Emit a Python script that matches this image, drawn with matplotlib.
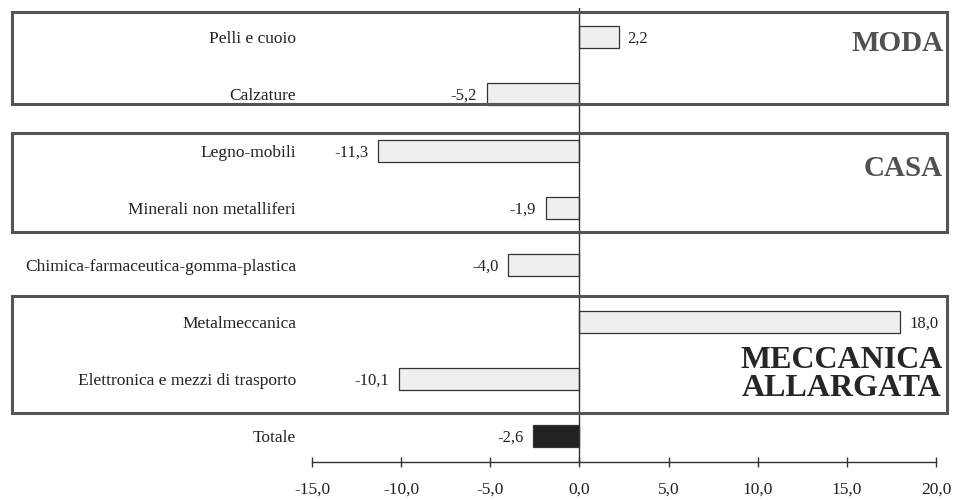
import matplotlib.pyplot as plt
from matplotlib.patches import Rectangle

categories = ["Pelli e cuoio", "Calzature", "Legno-mobili", "Minerali non metalliferi",
              "Chimica-farmaceutica-gomma-plastica", "Metalmeccanica",
              "Elettronica e mezzi di trasporto", "Totale"]
values = [2.2, -5.2, -11.3, -1.9, -4.0, 18.0, -10.1, -2.6]
xticks = [-15, -10, -5, 0, 5, 10, 15, 20]

# group boxes: label, first row, last row
groups = [("MODA", 0, 1), ("CASA", 2, 3), ("MECCANICA\nALLARGATA", 5, 6)]

plt.rcParams['font.family'] = ['Liberation Serif', 'DejaVu Serif']

W, H = 958, 500
fig = plt.figure(figsize=(W / 100, H / 100), dpi=100)
# axes spans the -15..20 range, top of zero line to axis line
ax = fig.add_axes([312 / W, (H - 462) / H, (936 - 312) / W, (462 - 8) / H])
ax.set_xlim(-15, 20)
ax.set_ylim(7.456, -0.509)

rows = list(range(len(categories)))
colors = ["#efefef"] * (len(values) - 1) + ["#222222"]
ax.barh(rows, values, height=0.38, color=colors, edgecolor="#333333", linewidth=0.9, zorder=3)

ax.axvline(0, color="#333333", linewidth=1.0, zorder=4)

for y, v, name in zip(rows, values, categories):
    lab = f"{v:.1f}".replace(".", ",")
    if v >= 0:
        ax.text(v + 0.5, y + 0.03, lab, ha="left", va="center", fontsize=12, color="#222222")
    else:
        ax.text(v - 0.55, y + 0.03, lab, ha="right", va="center", fontsize=12, color="#222222")
    ax.text(-15.9, y + 0.03, name, ha="right", va="center", fontsize=12.5, color="#222222",
            clip_on=False)

# group boxes (pixel-measured padding above/below) and label placement
pads = [(0.44, 0.175), (0.316, 0.42), (0.46, 0.6)]
label_y = [0.12, 2.3, 5.92]
label_size = [21, 21, 23]
label_col = ["#505050", "#505050", "#262626"]
for (label, r0, r1), (pt, pb), ly, fs, col in zip(groups, pads, label_y, label_size, label_col):
    top = r0 - pt
    bot = r1 + pb
    ax.add_patch(Rectangle((-31.8, top), 20.62 + 31.8, bot - top, fill=False,
                           edgecolor="#555555", linewidth=2.2, clip_on=False, zorder=5))
    ax.text(20.4, ly, label, ha="right", va="center", fontsize=fs, fontweight="bold",
            color=col, linespacing=0.92, multialignment="center", clip_on=False)

for s in ["top", "right", "left"]:
    ax.spines[s].set_visible(False)
ax.spines["bottom"].set_color("#333333")
ax.spines["bottom"].set_linewidth(1.0)
ax.set_yticks([])
ax.set_xticks(xticks)
ax.set_xticklabels([f"{t:.1f}".replace(".", ",") for t in xticks], fontsize=12.5, color="#222222")
ax.tick_params(axis="x", direction="inout", length=7, width=1.0, color="#333333", pad=11)

fig.savefig("out.png", dpi=100)
